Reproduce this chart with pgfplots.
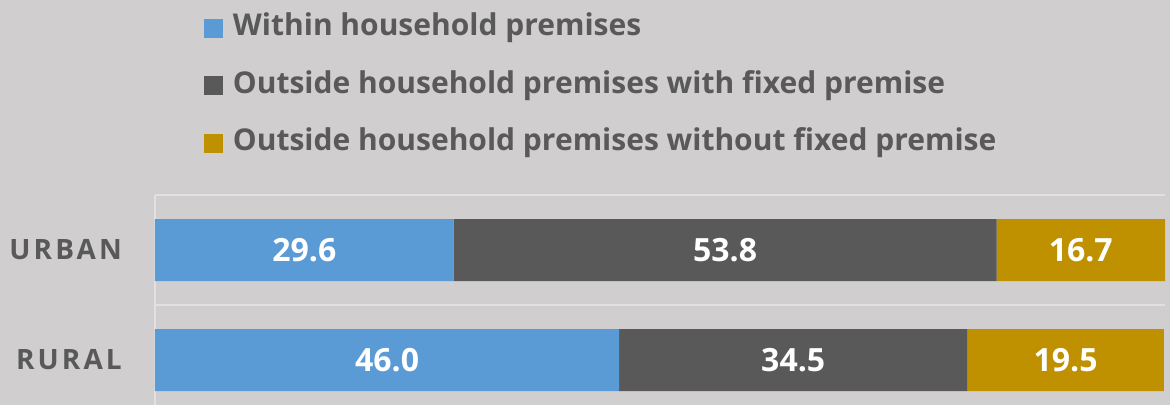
\documentclass[border=0pt]{standalone}
\usepackage{pgfplots}
\pgfplotsset{compat=1.18}
\usepackage{fontspec}
\setmainfont{Open Sans}
\newfontfamily\catfont[LetterSpace=11,BoldFont={Open Sans Bold}]{Open Sans}
\definecolor{bg}{HTML}{D0CECE}
\definecolor{txt}{HTML}{595959}
\definecolor{gridc}{HTML}{E2E0E0}
\definecolor{cblue}{HTML}{5B9BD5}
\definecolor{cdark}{HTML}{595959}
\definecolor{cgold}{HTML}{BF9000}
\pgfplotsset{sqlegend/.style={legend image code/.code={\fill[##1] (0pt,-9pt) rectangle (19pt,10pt);}}}
\begin{document}
\begin{tikzpicture}[x=1pt,y=1pt]
\path[use as bounding box, fill=bg] (0,0) rectangle (1170,405);
\begin{axis}[
  at={(155pt,0pt)}, anchor=south west,
  scale only axis, width=1010pt, height=210pt,
  xmin=0, xmax=100.1, ymin=-0.5, ymax=1.409,
  y dir=reverse,
  xbar stacked, bar width=62pt,
  axis x line=none,
  axis y line*=left,
  y axis line style={draw=gridc, line width=1.5pt, -},
  ytick={0,1}, yticklabels={URBAN,RURAL},
  major tick length=0pt,
  yticklabel style={font=\catfont\bfseries\fontsize{28}{30}\selectfont, text=txt, anchor=east, inner sep=0pt, xshift=-33pt},
  extra y ticks={-0.5,0.5}, extra y tick labels={},
  extra y tick style={grid=major, major grid style={draw=gridc, line width=1.5pt}},
  legend style={at={(0.0485,1.854)}, anchor=north west, draw=none, fill=none,
    inner sep=0pt, outer sep=0pt, row sep=31.5pt, column sep=10pt,
    nodes={inner sep=0pt, text=txt, font=\bfseries\fontsize{30}{34}\selectfont, text height=20pt, text depth=6pt}},
  legend cell align=left,
  clip=false,
]
\addplot[fill=cblue, draw=none, sqlegend] coordinates {(29.6,0) (46.0,1)};
\addplot[fill=cdark, draw=none, sqlegend] coordinates {(53.8,0) (34.5,1)};
\addplot[fill=cgold, draw=none, sqlegend] coordinates {(16.7,0) (19.5,1)};
\legend{Within household premises, Outside household premises with fixed premise, Outside household premises without fixed premise}
\end{axis}
\begin{axis}[
  at={(155pt,0pt)}, anchor=south west,
  scale only axis, width=1010pt, height=210pt,
  xmin=0, xmax=100.1, ymin=-0.5, ymax=1.409,
  y dir=reverse, hide axis, clip=false,
]
\addplot[draw=none, mark=none, nodes near coords, point meta=explicit symbolic,
  nodes near coords style={anchor=center, text=white, font=\bfseries\fontsize{32}{34}\selectfont}]
  table[meta=label] {
x y label
14.8 0 29.6
56.5 0 53.8
91.75 0 16.7
23.0 1 46.0
63.25 1 34.5
90.25 1 19.5
};
\end{axis}
\end{tikzpicture}
\end{document}
